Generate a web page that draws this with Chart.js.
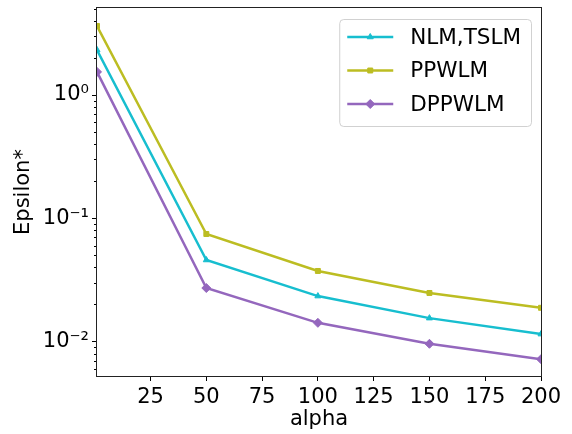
<!DOCTYPE html>
<html>
<head>
<meta charset="utf-8">
<script src="https://cdn.jsdelivr.net/npm/chart.js@4"></script>
<style>
  html, body { margin: 0; padding: 0; background: #fff; }
</style>
</head>
<body>
<canvas id="epsChart" width="572" height="434"></canvas>
<script>
// x positions (alpha) and the three series
var alphas = [1, 50, 100, 150, 200];
var nlmTslm = [2.32, 0.0459, 0.0234, 0.0155, 0.0115];
var ppwlm = [3.63, 0.0746, 0.0374, 0.0248, 0.0188];
var dppwlm = [1.54, 0.0272, 0.0142, 0.0096, 0.0072];
// tick labels
var xTicks = [25, 50, 75, 100, 125, 150, 175, 200];
var yTicks = [0.01, 0.1, 1];
var yLabels = ['10\u207B\u00B2', '10\u207B\u00B9', '10\u2070'];

function pts(ys) {
  return alphas.map(function (a, i) { return { x: a, y: ys[i] }; });
}

Chart.defaults.font.family = "'DejaVu Sans', sans-serif";
Chart.defaults.font.size = 21;
Chart.defaults.color = '#000';

// short log ticks + box around the axes
var frameAndMinor = {
  id: 'frameAndMinor',
  afterDraw: function (chart) {
    var ctx = chart.ctx, a = chart.chartArea, y = chart.scales.y;
    ctx.save();
    ctx.strokeStyle = '#000';
    ctx.lineWidth = 1;
    for (var e = -3; e <= 1; e++) {
      for (var d = 2; d <= 9; d++) {
        var v = d * Math.pow(10, e);
        if (v < y.min || v > y.max) continue;
        var py = Math.round(y.getPixelForValue(v)) + 0.5;
        ctx.beginPath();
        ctx.moveTo(a.left - 3, py);
        ctx.lineTo(a.left, py);
        ctx.stroke();
      }
    }
    ctx.strokeStyle = '#222';
    ctx.strokeRect(Math.round(a.left) - 0.5, Math.round(a.top) - 0.5,
      Math.round(a.right - a.left) + 1, Math.round(a.bottom - a.top) + 1);
    ctx.restore();
  }
};

// matplotlib-like legend in the upper right of the axes
var boxLegend = {
  id: 'boxLegend',
  afterDraw: function (chart) {
    var ctx = chart.ctx, a = chart.chartArea;
    var sets = chart.data.datasets;
    ctx.save();
    ctx.font = "21.5px 'DejaVu Sans', sans-serif";
    var tw = 0;
    sets.forEach(function (ds) { tw = Math.max(tw, ctx.measureText(ds.label).width); });
    var w = 71 + tw + 10, h = 107;
    var x0 = a.right - 10 - w, y0 = a.top + 11;
    ctx.fillStyle = 'rgba(255,255,255,0.8)';
    ctx.strokeStyle = 'rgba(204,204,204,0.9)';
    ctx.lineWidth = 1;
    ctx.beginPath();
    if (ctx.roundRect) ctx.roundRect(x0 + 0.5, y0 + 0.5, w, h, 4); else ctx.rect(x0 + 0.5, y0 + 0.5, w, h);
    ctx.fill();
    ctx.stroke();
    sets.forEach(function (ds, i) {
      var ry = y0 + 18 + i * 33.5;
      ctx.strokeStyle = ds.borderColor;
      ctx.lineWidth = ds.borderWidth;
      ctx.beginPath();
      ctx.moveTo(x0 + 8, ry);
      ctx.lineTo(x0 + 54, ry);
      ctx.stroke();
      ctx.fillStyle = ds.borderColor;
      ctx.strokeStyle = ds.borderColor;
      ctx.lineWidth = 1;
      Chart.helpers.drawPoint(ctx, { pointStyle: ds.pointStyle, radius: ds.pointRadius, borderWidth: 1, rotation: 0 }, x0 + 31, ry);
      ctx.fillStyle = '#000';
      ctx.textBaseline = 'middle';
      ctx.textAlign = 'left';
      ctx.fillText(ds.label, x0 + 71, ry + 1);
    });
    ctx.restore();
  }
};

new Chart(document.getElementById('epsChart'), {
  type: 'line',
  data: {
    datasets: [
      { label: 'NLM,TSLM', data: pts(nlmTslm), borderColor: '#17becf', backgroundColor: '#17becf',
        borderWidth: 2.5, pointStyle: 'triangle', pointRadius: 3.5, pointBorderWidth: 1 },
      { label: 'PPWLM', data: pts(ppwlm), borderColor: '#bcbd22', backgroundColor: '#bcbd22',
        borderWidth: 2.5, pointStyle: 'rect', pointRadius: 3.5, pointBorderWidth: 1 },
      { label: 'DPPWLM', data: pts(dppwlm), borderColor: '#9467bd', backgroundColor: '#9467bd',
        borderWidth: 2.5, pointStyle: 'rectRot', pointRadius: 4.5, pointBorderWidth: 1 }
    ]
  },
  options: {
    responsive: false,
    animation: false,
    layout: { padding: { left: 0, right: 31, top: 8, bottom: 0 } },
    plugins: { legend: { display: false }, tooltip: { enabled: false } },
    scales: {
      x: {
        type: 'linear', min: 1, max: 200,
        afterBuildTicks: function (s) { s.ticks = xTicks.map(function (v) { return { value: v }; }); },
        ticks: { autoSkip: false, maxRotation: 0, padding: 4 },
        grid: { drawOnChartArea: false, tickLength: 5, tickColor: '#000' },
        border: { display: false },
        title: { display: true, text: 'alpha', padding: { top: 0, bottom: 2 } },
        afterFit: function (s) { s.height = 58; s.paddingLeft = 0; s.paddingRight = 0; }
      },
      y: {
        type: 'logarithmic', min: 0.00526, max: 5.08,
        afterBuildTicks: function (s) { s.ticks = yTicks.map(function (v) { return { value: v }; }); },
        ticks: {
          autoSkip: false, padding: 3,
          callback: function (v) { var i = yTicks.indexOf(v); return i < 0 ? '' : yLabels[i]; }
        },
        grid: { drawOnChartArea: false, tickLength: 5, tickColor: '#000' },
        border: { display: false },
        title: { display: true, text: 'Epsilon*', padding: { top: 11, bottom: 0 } },
        afterFit: function (s) { s.width = 97; s.paddingTop = 0; s.paddingBottom = 0; }
      }
    }
  },
  plugins: [frameAndMinor, boxLegend]
});
</script>
</body>
</html>
